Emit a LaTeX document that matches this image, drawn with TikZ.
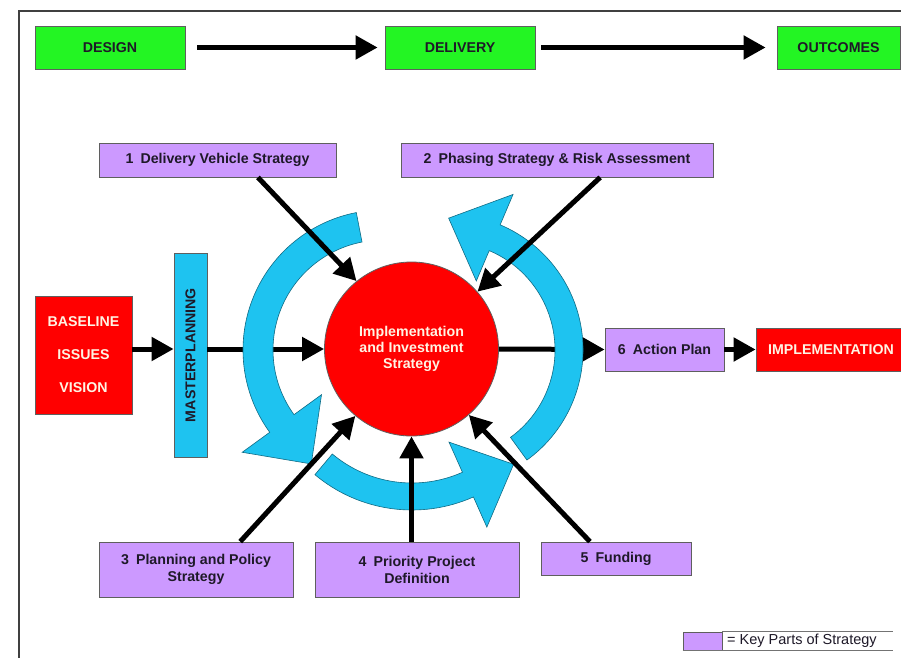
\documentclass[tikz,border=0pt]{standalone}
\usepackage{fontspec}
\setmainfont{Liberation Sans}
\usetikzlibrary{arrows.meta,calc}
\definecolor{kgreen}{RGB}{35,245,35}
\definecolor{kpurple}{RGB}{204,153,255}
\definecolor{kcyan}{RGB}{30,195,240}
\definecolor{kred}{RGB}{255,0,0}
\definecolor{kcream}{RGB}{255,244,228}
\definecolor{kborder}{RGB}{95,95,95}
\definecolor{ktext}{RGB}{30,25,40}
\begin{document}
\begin{tikzpicture}[x=1pt,y=1pt,
  every node/.style={font=\fontsize{14.2}{17}\selectfont\bfseries, inner sep=0pt, align=center},
  greenbox/.style={draw=kborder, line width=0.8pt, fill=kgreen, text=ktext, minimum height=43pt},
  purplebox/.style={draw=kborder, line width=0.8pt, fill=kpurple, text=ktext},
  redbox/.style={draw=kborder, line width=0.8pt, fill=kred, text=kcream},
  blk/.style={line width=5pt, draw=black, -{Triangle[length=22pt,width=23pt]}},
  cyanarrow/.style={fill=kcyan, draw=kcyan!55!black, line width=0.6pt, line join=miter}
]
\useasboundingbox (0,0) rectangle (901,657);
\clip (0,0) rectangle (901,657);
\fill[white] (0,0) rectangle (901,657);
% frame
\draw[line width=1.5pt, draw=black!75] (19,-10) -- (19,646) -- (915,646);

% top row
\node[greenbox, minimum width=150pt] (design) at (110,609.5) {DESIGN};
\node[greenbox, minimum width=150pt] (delivery) at (460,609.5) {DELIVERY};
\node[greenbox, minimum width=123pt] (outcomes) at (838.5,609.5) {OUTCOMES};
\draw[blk] ([xshift=12pt]design.east) -- ([xshift=-7pt]delivery.west);
\draw[blk] ([xshift=6pt]delivery.east) -- ([xshift=-11pt]outcomes.west);

% purple boxes
\node[purplebox, minimum width=237pt, minimum height=34pt] (box1) at (217.5,497) {1\hspace{0.5em}Delivery Vehicle Strategy};
\node[purplebox, minimum width=312pt, minimum height=34pt] (box2) at (557,497) {2\hspace{0.5em}Phasing Strategy \& Risk Assessment};
\node[purplebox, minimum width=194pt, minimum height=55pt] (box3) at (196,87.5) {3\hspace{0.5em}Planning and Policy\\Strategy};
\node[purplebox, minimum width=204pt, minimum height=55pt] (box4) at (417,87.5) {4\hspace{0.5em}Priority Project\\Definition};
\node[purplebox, minimum width=150pt, minimum height=33pt] (box5) at (616,98.5) {5\hspace{0.5em}Funding};
\node[purplebox, minimum width=119pt, minimum height=43pt] (a6) at (664.5,307.5) {6\hspace{0.5em}Action Plan};

% red boxes
\node[redbox, minimum width=97pt, minimum height=118pt, font=\fontsize{14.2}{33}\selectfont\bfseries] (base) at (83.5,302) {BASELINE\\ISSUES\\VISION};
\node[redbox, minimum width=150pt, minimum height=43pt] (impl) at (831,307.5) {IMPLEMENTATION};

% masterplanning bar
\node[draw=kborder, line width=0.8pt, fill=kcyan, text=ktext, rotate=90, minimum width=204pt, minimum height=33pt] (master) at (190.5,302) {MASTERPLANNING};

% centre circle
\node[circle, draw=kborder, line width=0.8pt, fill=kred, text=kcream, minimum size=174pt, font=\fontsize{14.2}{16}\selectfont\bfseries] (circ) at (411.5,308) {Implementation\\and Investment\\Strategy};

% horizontal arrows (under the cyan arrows)
\draw[blk] (base.east |- circ.center) -- (master.north |- circ.center);
\draw[blk] (master.south |- circ.center) -- (circ.west);
\draw[blk] (circ.east) -- (a6.west);
\draw[blk] (a6.east) -- (impl.west);

% cyan curved arrows
\coordinate (cl) at (383,307);
\coordinate (cr) at (447,307);
\coordinate (cb) at (412,298);
\filldraw[cyanarrow] ($(cl)+(101:140)$) arc[start angle=101, end angle=216, radius=140]
  -- ($(cl)+(216:174)$) -- ($(cl)+(216:125)+(306:50)$) -- ($(cl)+(216:76)$)
  -- ($(cl)+(216:110)$) arc[start angle=216, end angle=101, radius=110] -- cycle;
\filldraw[cyanarrow] ($(cb)+(230:151)$) arc[start angle=230, end angle=294, radius=151]
  -- ($(cb)+(294:184)$) -- ($(cb)+(294:137.5)+(24:50)$) -- ($(cb)+(294:91)$)
  -- ($(cb)+(294:124)$) arc[start angle=294, end angle=230, radius=124] -- cycle;
\filldraw[cyanarrow] ($(cr)+(306:136)$) arc[start angle=306, end angle=427, radius=136]
  -- ($(cr)+(67:169)$) -- ($(cr)+(67:122)+(157:50)$) -- ($(cr)+(67:75)$)
  -- ($(cr)+(67:108)$) arc[start angle=427, end angle=306, radius=108] -- cycle;

% arrows from the key parts into the circle
\draw[blk] ($(box1.south west)!0.67!(box1.south east)$) -- (circ.129);
\draw[blk] ($(box2.south west)!0.638!(box2.south east)$) -- (circ.41);
\draw[blk] ($(box3.north west)!0.727!(box3.north east)$) -- (circ.230);
\draw[blk] (circ.south |- box4.north) -- (circ.south);
\draw[blk] ($(box5.north west)!0.327!(box5.north east)$) -- (circ.311);

% legend
\node[draw=kborder, line width=0.8pt, fill=kpurple, minimum width=39pt, minimum height=18pt] (leg) at (702.5,16) {};
\node[anchor=west, text=ktext, font=\fontsize{14.5}{16}\selectfont] (legt) at (727,16) {= Key Parts of Strategy};
\coordinate (legend end) at (893,16);
\draw[line width=0.8pt, draw=black!55] (leg.north east) -- (leg.north east -| legend end);
\draw[line width=0.8pt, draw=black!55] (leg.south west) -- (leg.south west -| legend end);
\end{tikzpicture}
\end{document}
